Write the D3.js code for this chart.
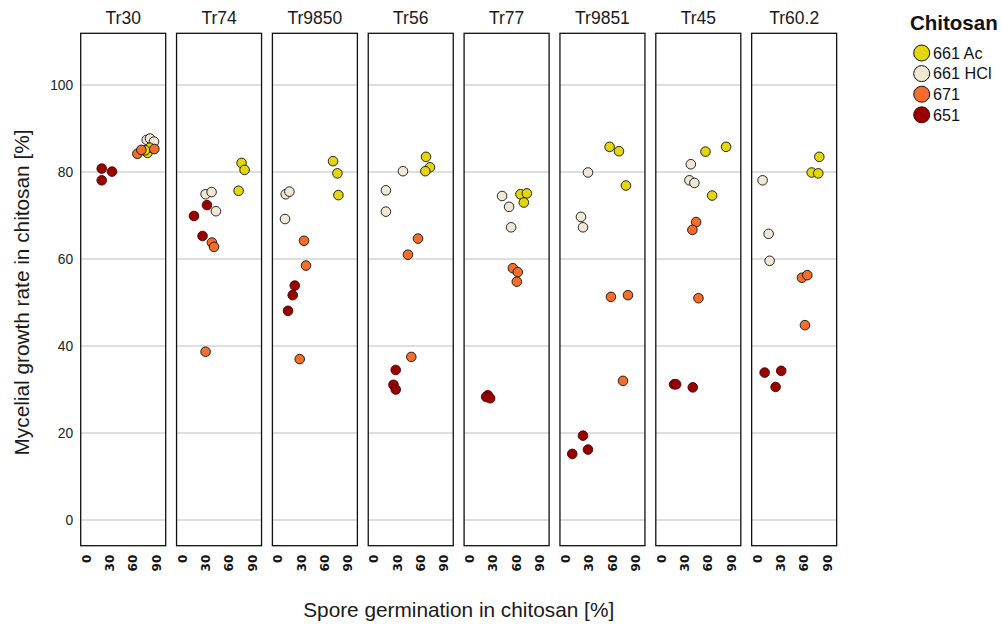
<!DOCTYPE html>
<html>
<head>
<meta charset="utf-8">
<script src="https://cdn.jsdelivr.net/npm/d3@7"></script>
<style>
  html, body { margin: 0; padding: 0; background: #fff; }
  svg { display: block; font-family: "Liberation Sans", Arial, Helvetica, sans-serif; }
</style>
</head>
<body>
<svg id="chart" width="1002" height="624"></svg>
<script>
// Trichoderma strains (one panel each)
const strains = ["Tr30", "Tr74", "Tr9850", "Tr56", "Tr77", "Tr9851", "Tr45", "Tr60.2"];
const chitosans = ["661 Ac", "661 HCl", "671", "651"];
const colors = ["#e4d60c", "#eee8d5", "#f46d2a", "#990000"];

// Spore germination (%) per strain, three replicates
const germ661Ac  = [[79, 82, 76], [76.7, 80.6, 72.9], [71.1, 76.7, 78.0], [67.4, 72.5, 66.5], [65.6, 73.8, 69.9], [57.0, 69.0, 78.0], [83.5, 57.0, 65.6], [80.1, 70.3, 78.8]];
const germ661HCl = [[78.0, 82.3, 87.4], [30.5, 38.2, 43.8], [10.3, 15.0, 9.4], [37.8, 15.9, 15.9], [42.0, 51.0, 53.6], [29.2, 20.2, 22.8], [38.2, 36.4, 42.8], [7.3, 15.0, 16.3]];
const germ671    = [[66.0, 71.1, 87.8], [38.7, 41.3, 30.5], [33.8, 36.4, 28.3], [57.1, 44.2, 48.5], [55.8, 62.2, 60.9], [58.7, 80.6, 74.2], [45.0, 40.2, 48.0], [57.8, 64.7, 61.7]];
const germ651    = [[20.2, 20.2, 33.4], [15.6, 32.3, 26.6], [21.9, 19.3, 13.3], [28.5, 25.6, 28.5], [23.7, 21.5, 26.6], [22.8, 29.2, 9.0], [16.7, 19.3, 40.7], [9.9, 31.2, 24.0]];

// Mycelial growth rate (%) per strain, three replicates
const growth661Ac  = [[84.4, 85.6, 85.0], [82.1, 80.5, 75.7], [82.5, 79.7, 74.7], [83.5, 81.1, 80.2], [74.9, 75.1, 73.0], [85.8, 84.8, 76.9], [85.8, 84.7, 74.6], [83.5, 79.9, 79.7]];
const growth661HCl = [[87.4, 87.7, 87.0], [74.9, 75.4, 71.0], [74.9, 75.5, 69.2], [80.2, 75.8, 70.9], [74.5, 72.0, 67.3], [79.9, 69.7, 67.3], [81.8, 78.1, 77.5], [78.1, 65.8, 59.6]];
const growth671    = [[84.2, 85.1, 85.3], [63.8, 62.8, 38.7], [64.2, 58.5, 37.0], [64.7, 61.0, 37.5], [57.9, 57.0, 54.8], [51.3, 51.7, 32.0], [68.5, 66.7, 51.0], [55.7, 56.3, 44.8]];
const growth651    = [[80.8, 78.1, 80.1], [69.9, 72.4, 65.3], [53.9, 51.7, 48.1], [34.5, 31.1, 30.0], [28.7, 28.3, 28.0], [19.4, 16.2, 15.2], [31.2, 31.2, 30.5], [33.9, 34.3, 30.6]];

const xTicks = [0, 30, 60, 90];
const yTicks = [0, 20, 40, 60, 80, 100];

const germ = [germ661HCl, germ661Ac, germ671, germ651];
const growth = [growth661HCl, growth661Ac, growth671, growth651];
const seriesIdx = [1, 0, 2, 3]; // draw order -> chitosan index

const points = [];
strains.forEach((s, si) => {
  seriesIdx.forEach((ci, k) => {
    germ[k][si].forEach((g, r) => {
      points.push({ strain: s, chitosan: chitosans[ci], germ: g, growth: growth[k][si][r] });
    });
  });
});

const svg = d3.select("#chart");
const panelLeft = 80.7, panelStride = 95.85, panelW = 85, plotTop = 33.3, plotBottom = 545.7;
const panelsRight = panelLeft + panelStride * (strains.length - 1) + panelW;

const color = d3.scaleOrdinal().domain(chitosans).range(colors);
const y = d3.scaleLinear().domain([-5.9, 111.9]).range([plotBottom, plotTop]);
const xBand = d3.scaleBand().domain(strains).range([panelLeft, panelsRight])
  .paddingInner(1 - panelW / panelStride).paddingOuter(0);

strains.forEach((s) => {
  const x0 = xBand(s);
  const w = xBand.bandwidth();
  const x = d3.scaleLinear().domain([-6.8, 102.4]).range([0, w]);
  const g = svg.append("g").attr("transform", `translate(${x0},0)`);

  // horizontal grid lines
  g.selectAll("line.grid").data(yTicks).join("line")
    .attr("class", "grid")
    .attr("x1", 0).attr("x2", w)
    .attr("y1", d => y(d)).attr("y2", d => y(d))
    .attr("stroke", "#bdbdbd").attr("stroke-width", 1.1);

  // points
  g.selectAll("circle").data(points.filter(p => p.strain === s)).join("circle")
    .attr("cx", d => x(d.germ)).attr("cy", d => y(d.growth))
    .attr("r", 4.8)
    .attr("fill", d => color(d.chitosan))
    .attr("stroke", d => d.chitosan === "651" ? "#4a0000" : "#111")
    .attr("stroke-width", 0.9);

  // panel frame
  g.append("rect")
    .attr("x", 0).attr("y", plotTop)
    .attr("width", w).attr("height", plotBottom - plotTop)
    .attr("fill", "none").attr("stroke", "#111").attr("stroke-width", 1.3);

  // strip label
  g.append("text")
    .attr("x", w / 2).attr("y", 24)
    .attr("text-anchor", "middle")
    .attr("font-size", 17.5).attr("fill", "#1a1a1a")
    .text(s);

  // x axis: rotated tick labels
  const xAxis = d3.axisBottom(x).tickValues(xTicks).tickSize(0).tickPadding(0);
  const ax = g.append("g").attr("transform", `translate(0,${plotBottom})`).call(xAxis);
  ax.select(".domain").remove();
  ax.selectAll("text")
    .attr("transform", "translate(0,9) rotate(-90) scale(1.04,1)")
    .attr("x", 0).attr("y", 0).attr("dy", "0.36em")
    .attr("text-anchor", "end")
    .attr("font-size", 11.6).attr("font-weight", "bold")
    .attr("font-family", "'DejaVu Sans', sans-serif")
    .attr("fill", "#111");
});

// y axis labels
const yAxis = d3.axisLeft(y).tickValues(yTicks).tickSize(0).tickPadding(7.5);
const ay = svg.append("g").attr("transform", `translate(${panelLeft},0)`).call(yAxis);
ay.select(".domain").remove();
ay.selectAll("text")
  .attr("font-size", 13.8).attr("fill", "#222")
  .attr("font-family", "'Liberation Sans', Arial, sans-serif");

// axis titles
svg.append("text")
  .attr("transform", `translate(28.5,${(plotTop + plotBottom) / 2 + 3}) rotate(-90)`)
  .attr("text-anchor", "middle")
  .attr("font-size", 20.8).attr("fill", "#1a1a1a")
  .text("Mycelial growth rate in chitosan [%]");

svg.append("text")
  .attr("x", (panelLeft + panelsRight) / 2)
  .attr("y", 617)
  .attr("text-anchor", "middle")
  .attr("font-size", 20.8).attr("fill", "#1a1a1a")
  .text("Spore germination in chitosan [%]");

// legend
const legend = svg.append("g").attr("transform", "translate(910,0)");
legend.append("text")
  .attr("x", 0).attr("y", 30)
  .attr("font-size", 20.5).attr("font-weight", "bold").attr("fill", "#111")
  .text("Chitosan");
const items = legend.selectAll("g.item").data(chitosans).join("g")
  .attr("class", "item")
  .attr("transform", (d, i) => `translate(0,${53 + i * 20.6})`);
items.append("circle")
  .attr("cx", 11.7).attr("cy", 0).attr("r", 8)
  .attr("fill", d => color(d))
  .attr("stroke", d => d === "651" ? "#4a0000" : "#111")
  .attr("stroke-width", 1);
items.append("text")
  .attr("x", 23).attr("y", 0).attr("dy", "0.36em")
  .attr("font-size", 16.2).attr("fill", "#111")
  .text(d => d);
</script>
</body>
</html>
